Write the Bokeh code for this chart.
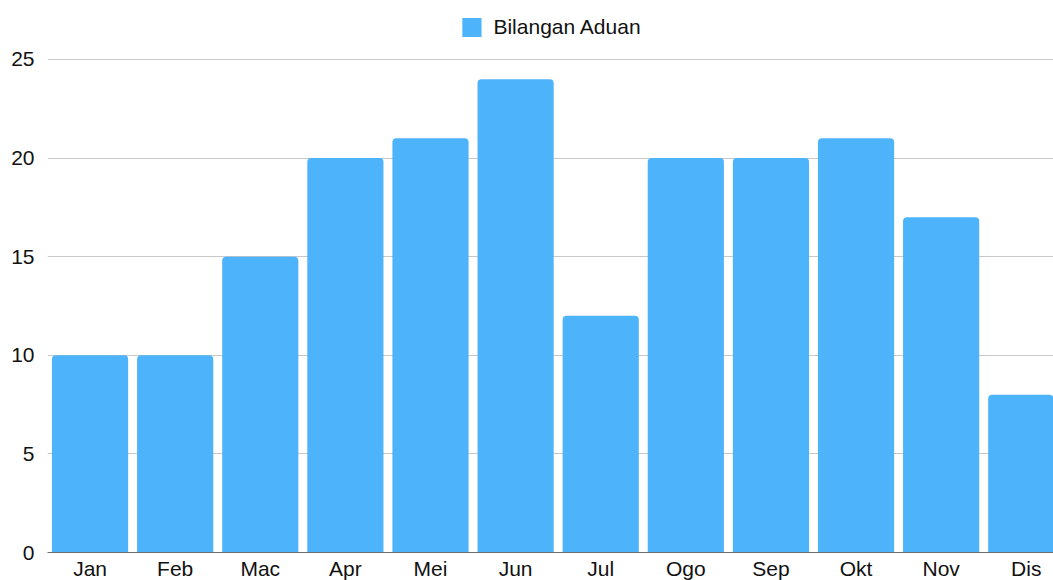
from bokeh.plotting import figure
from bokeh.models import FixedTicker, ColumnDataSource, Range1d, Legend, LegendItem
from bokeh.embed import file_html
from bokeh.resources import INLINE

months = ["Jan", "Feb", "Mac", "Apr", "Mei", "Jun", "Jul", "Ogo", "Sep", "Okt", "Nov", "Dis"]
complaints = [10, 10, 15, 20, 21, 24, 12, 20, 20, 21, 17, 8]
y_ticks = [0, 5, 10, 15, 20, 25]
series_name = "Bilangan Aduan"

FONT = "Liberation Sans"
BAR = "#4DB3FB"
FS = "21px"

xs = list(range(len(months)))
src = ColumnDataSource(dict(x=xs, top=complaints, month=months))

p = figure(
    frame_width=1006, frame_height=542,
    x_range=Range1d(-0.5, 11.32), y_range=Range1d(0, 27.48),
    output_backend="svg", toolbar_location=None,
    min_border_left=47, min_border_right=0, min_border_top=10, min_border_bottom=0,
)
p.outline_line_color = None

r = p.vbar(x="x", top="top", width=0.895, source=src, fill_color=BAR, line_color=None,
           border_radius=(4, 4, 0, 0))

p.xaxis.ticker = FixedTicker(ticks=xs)
p.xaxis.major_label_overrides = {i: m for i, m in enumerate(months)}
p.xaxis.major_tick_line_color = None
p.xaxis.minor_tick_line_color = None
p.xaxis.major_tick_out = 0
p.xaxis.major_tick_in = 0
p.xaxis.axis_line_color = "#6e6e6e"
p.xaxis.axis_line_width = 1
p.xaxis.major_label_standoff = 4
p.xaxis.major_label_text_font = FONT
p.xaxis.major_label_text_font_size = FS
p.xaxis.major_label_text_color = "#111111"

p.yaxis.ticker = FixedTicker(ticks=y_ticks)
p.yaxis.major_tick_line_color = None
p.yaxis.minor_tick_line_color = None
p.yaxis.axis_line_color = None
p.yaxis.major_tick_out = 0
p.yaxis.major_tick_in = 0
p.yaxis.major_label_standoff = 13
p.yaxis.major_label_text_font = FONT
p.yaxis.major_label_text_font_size = FS
p.yaxis.major_label_text_color = "#111111"

p.xgrid.grid_line_color = None
p.ygrid.grid_line_color = "#c8c8c8"
p.ygrid.grid_line_width = 1

legend = Legend(items=[LegendItem(label=series_name, renderers=[r])],
                location="top_center", orientation="horizontal",
                glyph_width=24, glyph_height=24, label_standoff=10,
                label_text_font=FONT, label_text_font_size=FS, label_text_color="#111111",
                border_line_color=None, background_fill_alpha=0, padding=2, margin=5)
p.add_layout(legend)

open("out.html", "w").write(file_html(p, INLINE))
